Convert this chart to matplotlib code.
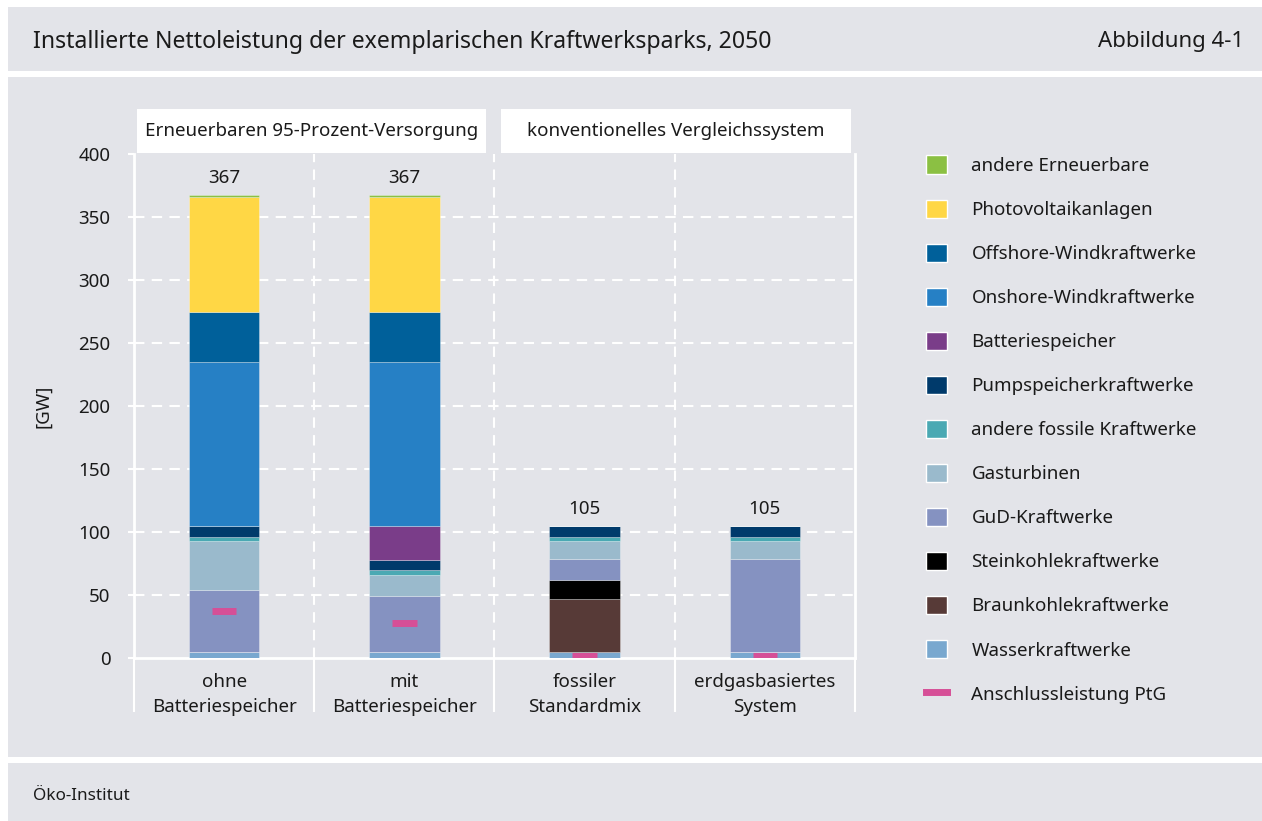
import matplotlib
matplotlib.use("Agg")
import matplotlib.pyplot as plt
from matplotlib.patches import Rectangle, Patch
from matplotlib.lines import Line2D
import numpy as np

plt.rcParams['font.family'] = ['Noto Sans', 'DejaVu Sans']

# ---------------- data ----------------
categories = ["ohne\nBatteriespeicher", "mit\nBatteriespeicher",
              "fossiler\nStandardmix", "erdgasbasiertes\nSystem"]
wasser = [5, 5, 5, 5]
braunkohle = [0, 0, 42, 0]
steinkohle = [0, 0, 15, 0]
gud = [49, 44.5, 16.5, 73.5]
gasturbinen = [39, 16.5, 14.5, 14.5]
andere_fossile = [3, 3.5, 3, 3]
pumpspeicher = [9, 8.5, 9, 9]
batterie = [0, 27, 0, 0]
onshore = [130, 130, 0, 0]
offshore = [39.5, 39.5, 0, 0]
photovoltaik = [91, 91, 0, 0]
andere_ee = [2, 2, 0, 0]
totals = [367, 367, 105, 105]
ptg = [37, 28, 1.5, 1.5]
groups = ["Erneuerbaren 95-Prozent-Versorgung", "konventionelles Vergleichssystem"]
yticks = [0, 50, 100, 150, 200, 250, 300, 350, 400]

series = [
    ("Wasserkraftwerke", wasser, "#79a8cf"),
    ("Braunkohlekraftwerke", braunkohle, "#573a37"),
    ("Steinkohlekraftwerke", steinkohle, "#000000"),
    ("GuD-Kraftwerke", gud, "#8592c1"),
    ("Gasturbinen", gasturbinen, "#9abacc"),
    ("andere fossile Kraftwerke", andere_fossile, "#4aa9b3"),
    ("Pumpspeicherkraftwerke", pumpspeicher, "#003a6b"),
    ("Batteriespeicher", batterie, "#7a3d89"),
    ("Onshore-Windkraftwerke", onshore, "#2680c5"),
    ("Offshore-Windkraftwerke", offshore, "#00609a"),
    ("Photovoltaikanlagen", photovoltaik, "#ffd745"),
    ("andere Erneuerbare", andere_ee, "#8bc043"),
]
ptg_label = "Anschlussleistung PtG"
ptg_color = "#d64f97"

BG = "#e3e4e9"
TXT = "#1a1a1a"
FS = 13.5

W, H = 1262, 821
fig = plt.figure(figsize=(W / 100, H / 100), dpi=100)
fig.patch.set_facecolor("white")

def px_rect(x0, y0, x1, y1, color):
    fig.patches.append(Rectangle((x0 / W, 1 - y1 / H), (x1 - x0) / W, (y1 - y0) / H,
                                 transform=fig.transFigure, facecolor=color,
                                 edgecolor="none", zorder=-10))

px_rect(8, 7, W, 71, BG)
px_rect(8, 77, W, 757, BG)
px_rect(8, 763, W, H, BG)

fig.text(33 / W, 1 - 42 / H, "Installierte Nettoleistung der exemplarischen Kraftwerksparks, 2050",
         fontsize=16.6, color=TXT, va="center", ha="left")
fig.text(1244 / W, 1 - 42 / H, "Abbildung 4-1", fontsize=16, color=TXT, va="center", ha="right")
fig.text(33 / W, 1 - 796 / H, "Öko-Institut", fontsize=12.3, color=TXT, va="center", ha="left")

# axes
L, R, B, T = 134, 855, 658, 154
ax = fig.add_axes([L / W, 1 - B / H, (R - L) / W, (B - T) / H])
ax.set_zorder(5)
ax.set_facecolor("none")
x = np.arange(len(categories))
width = 0.39
bottom = np.zeros(len(categories))
for name, vals, col in series:
    vals = np.array(vals, dtype=float)
    ax.bar(x, vals, width, bottom=bottom, color=col, edgecolor=(1, 1, 1, 0.35),
           linewidth=0.6, zorder=3)
    bottom += vals

ax.hlines(ptg, x - 0.068, x + 0.068, color=ptg_color, linewidth=5, zorder=4)

for xi, (tot, top) in enumerate(zip(totals, bottom)):
    ax.text(xi, top + 6, str(tot), ha="center", va="bottom", fontsize=FS, color=TXT)

ax.set_xlim(-0.5, 3.5)
ax.set_ylim(0, 400)
ax.set_yticks(yticks)
ax.tick_params(axis="y", length=4, color="white", width=1.5, pad=13, labelsize=FS, labelcolor=TXT)
ax.set_xticks(x)
ax.set_xticklabels(categories, fontsize=FS, color=TXT, linespacing=1.45)
ax.tick_params(axis="x", which="major", length=0, pad=11)
ax.set_xticks([-0.5, 0.5, 1.5, 2.5, 3.5], minor=True)
ax.tick_params(axis="x", which="minor", length=39, color="white", width=1.5, direction="out")

for yv in yticks[1:-1]:
    ax.axhline(yv, color="white", lw=1.5, ls=(0, (5, 3.5)), zorder=1)
for xv in [0.5, 1.5, 2.5]:
    ax.axvline(xv, color="white", lw=1.5, ls=(0, (5, 3.5)), zorder=1)

for s in ["left", "right", "bottom"]:
    ax.spines[s].set_color("white")
    ax.spines[s].set_linewidth(2)
ax.spines["top"].set_visible(False)

ax.set_ylabel("[GW]", fontsize=FS, color=TXT, labelpad=19)

# group header boxes
gy0, gy1 = 400.5, 435.5
for (xa, xb), g in zip([(-0.483, 1.453), (1.536, 3.478)], groups):
    ax.add_patch(Rectangle((xa, gy0), xb - xa, gy1 - gy0, facecolor="white", edgecolor="none",
                           clip_on=False, zorder=2))
    ax.text((xa + xb) / 2, (gy0 + gy1) / 2, g, ha="center", va="center", fontsize=FS,
            color=TXT, clip_on=False)

# legend
handles = [Patch(facecolor=col, edgecolor="white", linewidth=1, label=name)
           for name, vals, col in series[::-1]]
handles.append(Line2D([0], [0], color=ptg_color, lw=5, label=ptg_label))
leg = fig.legend(handles=handles, loc="upper left", bbox_to_anchor=(918 / W, 1 - 148 / H),
                 frameon=False, fontsize=FS, handlelength=1.15, handleheight=1.15,
                 handletextpad=1.3, labelspacing=1.3, borderaxespad=0)
for t in leg.get_texts():
    t.set_color(TXT)

fig.savefig("out.png", dpi=100, facecolor="white")
